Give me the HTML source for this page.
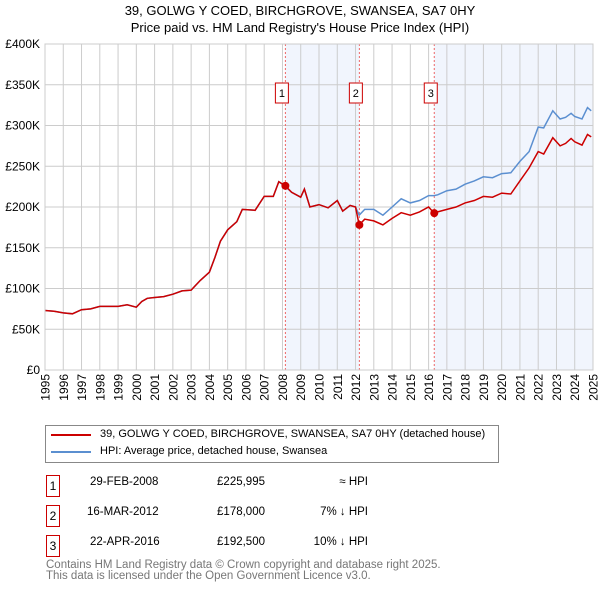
<!DOCTYPE html>
<html><head><meta charset="utf-8"><style>
body{margin:0;background:#fff;font-family:"Liberation Sans","DejaVu Sans",sans-serif;}
#wrap{position:relative;width:600px;height:590px;overflow:hidden;}
.t{position:absolute;white-space:nowrap;}
.box{position:absolute;border:1px solid #c00;width:12px;height:20px;font-size:12px;text-align:center;line-height:20px;}
</style></head><body>
<div id="wrap">
<div class="t" style="left:0;width:600px;text-align:center;top:3px;font-size:13px;">39, GOLWG Y COED, BIRCHGROVE, SWANSEA, SA7 0HY</div>
<div class="t" style="left:0;width:600px;text-align:center;top:20px;font-size:13px;">Price paid vs. HM Land Registry's House Price Index (HPI)</div>
<svg id="chart" width="600" height="410" style="position:absolute;left:0;top:0"></svg>
<div style="position:absolute;left:45px;top:425px;width:452px;height:36px;border:1px solid #888;">
<div style="position:absolute;left:5px;top:8px;width:40px;height:2px;background:#c00"></div>
<div class="t" style="left:54px;top:2px;font-size:11px;">39, GOLWG Y COED, BIRCHGROVE, SWANSEA, SA7 0HY (detached house)</div>
<div style="position:absolute;left:5px;top:25px;width:40px;height:2px;background:#5b8fd0"></div>
<div class="t" style="left:54px;top:19px;font-size:11px;">HPI: Average price, detached house, Swansea</div>
</div>
<div style="font-size:11.5px;">
<div class="box" style="left:46px;top:475px">1</div>
<div class="t" style="left:90px;top:476px">29-FEB-2008</div><div class="t" style="left:210px;top:476px;width:55px;text-align:right">£225,995</div><div class="t" style="left:300px;top:476px;width:68px;text-align:right">≈ HPI</div>
<div class="box" style="left:46px;top:505px">2</div>
<div class="t" style="left:87px;top:506px">16-MAR-2012</div><div class="t" style="left:210px;top:506px;width:55px;text-align:right">£178,000</div><div class="t" style="left:300px;top:506px;width:68px;text-align:right">7% ↓ HPI</div>
<div class="box" style="left:46px;top:535px">3</div>
<div class="t" style="left:90px;top:536px">22-APR-2016</div><div class="t" style="left:210px;top:536px;width:55px;text-align:right">£192,500</div><div class="t" style="left:300px;top:536px;width:68px;text-align:right">10% ↓ HPI</div>
</div>
<div class="t" style="left:46px;top:560px;font-size:11.5px;color:#777;line-height:11px;">Contains HM Land Registry data © Crown copyright and database right 2025.<br>This data is licensed under the Open Government Licence v3.0.</div>
</div>
<script>
const years=[1995,1995.5,1996,1996.5,1997,1997.5,1998,1998.5,1999,1999.5,2000,2000.3,2000.6,2001,2001.5,2002,2002.5,2003,2003.5,2004,2004.3,2004.6,2005,2005.5,2005.8,2006.5,2007,2007.5,2007.8,2008.16,2008.5,2009,2009.2,2009.5,2010,2010.5,2011,2011.3,2011.7,2012,2012.2,2012.5,2013,2013.5,2014,2014.5,2015,2015.5,2016,2016.3,2016.5,2017,2017.5,2018,2018.5,2019,2019.5,2020,2020.5,2021,2021.5,2022,2022.3,2022.8,2023.2,2023.5,2023.8,2024,2024.4,2024.7,2024.9];
const hpiValues=[73,72,70,69,74,75,78,78,78,80,77,84,88,89,90,93,97,98,110,120,138,158,172,182,197,196,213,213,231,225,218,212,222,200,203,199,208,195,202,200,190,197,197,190,200,210,205,208,214,214,215,220,222,228,232,237,236,241,242,256,268,298,297,318,308,310,315,311,308,322,318];
const priceValues=[73,72,70,69,74,75,78,78,78,80,77,84,88,89,90,93,97,98,110,120,138,158,172,182,197,196,213,213,231,226,218,212,222,200,203,199,208,195,202,200,178,185,183,178,186,193,190,194,200,192.5,194,197,200,205,208,213,212,217,216,232,248,268,265,285,275,278,284,280,276,289,286];
const saleYears=[2008.16,2012.21,2016.31];
const saleValues=[225.995,178,192.5];
const saleLabels=["1","2","3"];
const yTicks=[0,50,100,150,200,250,300,350,400];
const yTickLabels=["£0","£50K","£100K","£150K","£200K","£250K","£300K","£350K","£400K"];
const svg=document.getElementById('chart');const NS='http://www.w3.org/2000/svg';
const X0=45,X1=593,Y0=370,Y1=44;
const xs=y=>X0+(y-1995)/30*(X1-X0);const ys=v=>Y0-v/400*(Y0-Y1);
function mk(t,a){const e=document.createElementNS(NS,t);for(const k in a)e.setAttribute(k,a[k]);svg.appendChild(e);return e;}
let e;
e=mk('rect',{x:xs(saleYears[0]),y:Y1,width:xs(saleYears[1])-xs(saleYears[0]),height:Y0-Y1,fill:'#eef3fc',opacity:0.8});

e=mk('rect',{x:xs(saleYears[2]),y:Y1,width:X1-xs(saleYears[2]),height:Y0-Y1,fill:'#eef3fc',opacity:0.8});

for(let yr=1995;yr<=2025;yr++){
 e=mk('line',{x1:xs(yr),x2:xs(yr),y1:Y1,y2:Y0,stroke:'#ccc','stroke-width':1});
 
 e=mk('text',{x:0,y:0,'font-size':12,'text-anchor':'end',fill:'#000',transform:`translate(${xs(yr)+4.5},374) rotate(-90)`});e.textContent=yr;
 
}
yTicks.forEach((v,i)=>{
 e=mk('line',{x1:X0,x2:X1,y1:ys(v),y2:ys(v),stroke:'#ccc','stroke-width':1});
 
 e=mk('text',{x:40,y:ys(v)+4,'font-size':12,'text-anchor':'end',fill:'#000'});e.textContent=yTickLabels[i];
 
});
saleYears.forEach((y,i)=>{
 e=mk('line',{x1:xs(y),x2:xs(y),y1:Y1,y2:Y0,stroke:'#e66','stroke-width':1,'stroke-dasharray':'2,2'});
 
 e=mk('rect',{x:xs(y)-10,y:83,width:13,height:20,fill:'#fff',stroke:'#c00'});
 
 e=mk('text',{x:xs(y)-3.5,y:97,'font-size':11,'text-anchor':'middle'});e.textContent=saleLabels[i];
 
});
const pts=a=>a.map((v,i)=>xs(years[i]).toFixed(1)+','+ys(v).toFixed(1)).join(' ');
e=mk('polyline',{points:pts(hpiValues),fill:'none',stroke:'#5b8fd0','stroke-width':1.5});

e=mk('polyline',{points:pts(priceValues),fill:'none',stroke:'#c00','stroke-width':1.5});

saleYears.forEach((y,i)=>{
 e=mk('circle',{cx:xs(y),cy:ys(saleValues[i]),r:4,fill:'#c00'});
 
});
e=mk('rect',{x:X0,y:Y1,width:X1-X0,height:Y0-Y1,fill:'none',stroke:'#ccc'});

</script>
</body></html>
